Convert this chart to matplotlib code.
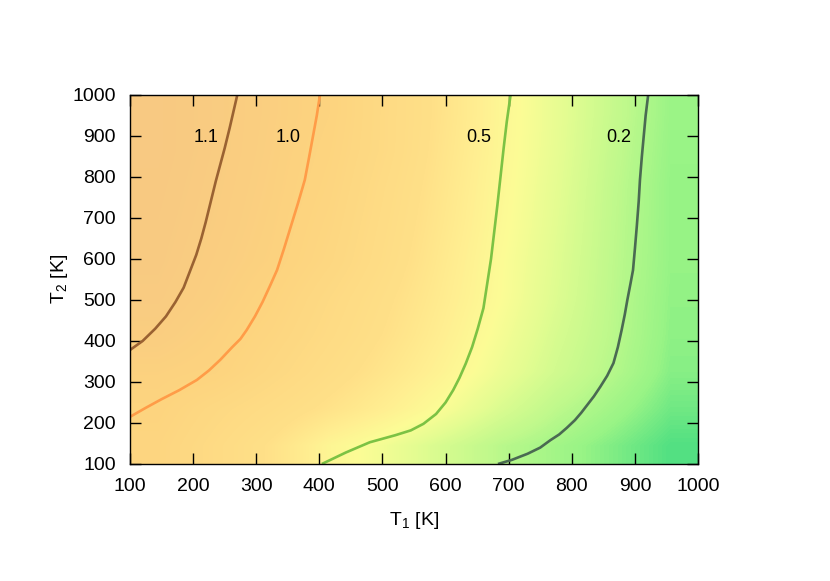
import matplotlib
matplotlib.use('Agg')
import matplotlib.pyplot as plt
import numpy as np
from matplotlib.colors import LinearSegmentedColormap

plt.rcParams['font.family'] = ['Liberation Sans', 'DejaVu Sans']
plt.rcParams['mathtext.default'] = 'regular'

# grid (rows: T2 = 100..1000, cols: T1 = 100..1000)
t1_grid = [100, 200, 300, 400, 500, 600, 700, 800, 900, 1000]
t2_grid = [100, 200, 300, 400, 500, 600, 700, 800, 900, 1000]
z_grid = [
    [0.95, 0.82, 0.68, 0.505, 0.40, 0.29, 0.19, 0.13, 0.07, 0.01],
    [0.99, 0.88, 0.78, 0.67, 0.56, 0.44, 0.31, 0.20, 0.125, 0.05],
    [1.04, 1.005, 0.885, 0.76, 0.64, 0.52, 0.39, 0.27, 0.175, 0.08],
    [1.11, 1.04, 0.94, 0.815, 0.69, 0.56, 0.425, 0.295, 0.19, 0.09],
    [1.15, 1.08, 0.985, 0.85, 0.72, 0.586, 0.453, 0.32, 0.195, 0.095],
    [1.17, 1.103, 1.03, 0.91, 0.76, 0.606, 0.46, 0.33, 0.20, 0.10],
    [1.18, 1.12, 1.045, 0.935, 0.78, 0.625, 0.475, 0.34, 0.205, 0.10],
    [1.19, 1.13, 1.058, 0.96, 0.80, 0.64, 0.485, 0.35, 0.21, 0.10],
    [1.20, 1.14, 1.068, 0.98, 0.83, 0.655, 0.495, 0.36, 0.22, 0.105],
    [1.20, 1.14, 1.076, 1.00, 0.833, 0.667, 0.50, 0.365, 0.23, 0.11],
]

# contour lines (T1, T2)
c11_t1 = [100, 120, 140, 157, 172, 185, 195, 205, 213, 220, 228, 236, 243, 250, 258, 264, 270]
c11_t2 = [378, 400, 430, 460, 495, 530, 570, 610, 650, 690, 740, 790, 830, 870, 920, 960, 1000]
c10_t1 = [100, 125, 150, 178, 206, 225, 243, 262, 275, 285, 298, 310, 322, 333, 344, 355, 366,
          377, 384, 390, 396, 401]
c10_t2 = [215, 237, 258, 280, 305, 328, 354, 385, 405, 427, 460, 495, 535, 573, 625, 680, 735,
          793, 850, 900, 950, 1000]
c05_t1 = [404, 442, 480, 520, 545, 565, 585, 600, 612, 622, 632, 642, 651, 660, 666, 672, 677,
          682, 687, 692, 697, 703]
c05_t2 = [100, 128, 153, 170, 182, 198, 222, 250, 280, 310, 345, 385, 430, 480, 540, 600, 665,
          730, 800, 870, 935, 1000]
c02_t1 = [683, 705, 730, 750, 766, 780, 792, 805, 815, 825, 835, 845, 856, 866, 873, 879, 884,
          888, 893, 897, 900, 903, 906, 908, 911, 914, 917, 921]
c02_t2 = [100, 110, 125, 140, 158, 172, 188, 207, 225, 245, 265, 288, 315, 346, 385, 427, 465,
          500, 540, 573, 625, 680, 740, 793, 850, 900, 950, 1000]

levels = ['1.1', '1.0', '0.5', '0.2']
label_t1 = [220, 350, 652, 874]
label_t2 = [897, 897, 897, 897]
line_colors = ['#9a6232', '#ff9c48', '#7cc244', '#4a6a52']

cmap = LinearSegmentedColormap.from_list('heat', [
    (0.0 / 1.2, '#4cde82'),
    (0.1 / 1.2, '#98f486'),
    (0.2 / 1.2, '#bff98c'),
    (0.35 / 1.2, '#e6fd92'),
    (0.45 / 1.2, '#fcfc96'),
    (0.55 / 1.2, '#fff092'),
    (0.7 / 1.2, '#ffe088'),
    (1.0 / 1.2, '#fdd47f'),
    (1.2 / 1.2, '#f8c982'),
])

fig = plt.figure(figsize=(8.3, 5.81), dpi=100)
ax = fig.add_axes([0.1566, 0.2014, 0.6844, 0.6351])

ax.imshow(np.array(z_grid), origin='lower', cmap=cmap, vmin=0.0, vmax=1.2,
          extent=[100, 1000, 100, 1000], aspect='auto', interpolation='bilinear')

lines = [(c11_t1, c11_t2), (c10_t1, c10_t2), (c05_t1, c05_t2), (c02_t1, c02_t2)]
for (xs, ys), col in zip(lines, line_colors):
    ax.plot(xs, ys, color=col, lw=1.9, solid_capstyle='butt', solid_joinstyle='round')

for lab, x, y in zip(levels, label_t1, label_t2):
    ax.text(x, y, lab, fontsize=13, ha='center', va='center', color='black')

ax.set_xlim(100, 1000)
ax.set_ylim(100, 1000)
ticks = np.arange(100, 1001, 100)
ax.set_xticks(ticks)
ax.set_yticks(ticks)
ax.tick_params(direction='in', length=8, width=1, labelsize=14, top=True, right=True, pad=10)
for s in ax.spines.values():
    s.set_linewidth(1)

ax.set_xlabel('T$_1$ [K]', fontsize=14, labelpad=11)
ax.set_ylabel('T$_2$ [K]', fontsize=14, labelpad=2)

fig.savefig('out.png', dpi=100)
